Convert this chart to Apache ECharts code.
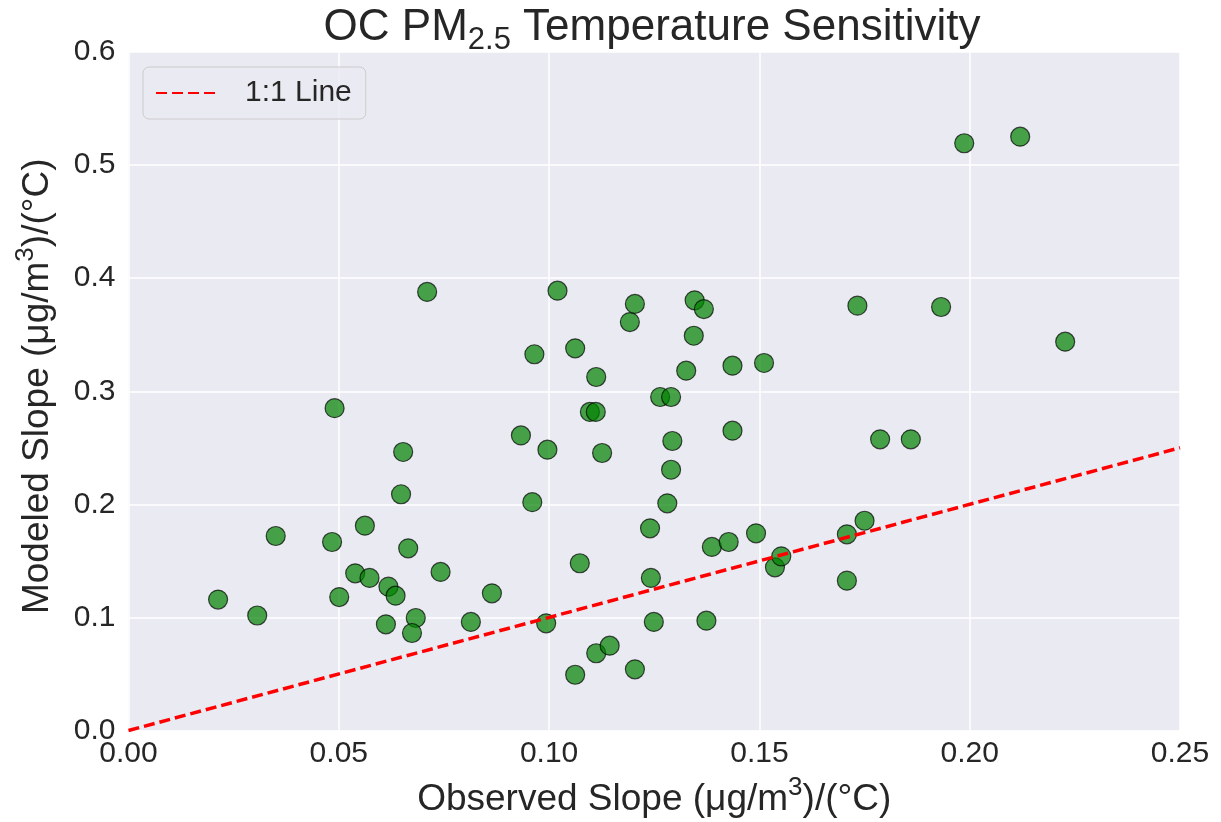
<!DOCTYPE html>
<html>
<head>
<meta charset="utf-8">
<script src="https://cdn.jsdelivr.net/npm/echarts@6/dist/echarts.min.js"></script>
<style>
html,body{margin:0;padding:0;background:#fff;}
#chart{width:1221px;height:822px;}
</style>
</head>
<body>
<div id="chart"></div>
<script>
// Observed slope (x) and modeled slope (y), µg/m3 per °C
const observed = [
  0.0213, 0.0306, 0.0350, 0.0490, 0.0484, 0.0501, 0.0539, 0.0562, 0.0573, 0.0618,
  0.0635, 0.0612, 0.0653, 0.0648, 0.0665, 0.0683, 0.0674, 0.0710, 0.0742, 0.0814,
  0.0864, 0.0933, 0.0960, 0.0965, 0.0996, 0.0993, 0.1020, 0.1062, 0.1073, 0.1062,
  0.1097, 0.1111, 0.1112, 0.1112, 0.1126, 0.1144, 0.1192, 0.1204, 0.1204, 0.1240,
  0.1242, 0.1249, 0.1264, 0.1290, 0.1293, 0.1290, 0.1281, 0.1326, 0.1344, 0.1346,
  0.1368, 0.1374, 0.1387, 0.1427, 0.1436, 0.1436, 0.1492, 0.1511, 0.1537, 0.1552,
  0.1708, 0.1708, 0.1733, 0.1750, 0.1787, 0.1860, 0.1932, 0.1987, 0.2120, 0.2227
];
const modeled = [
  0.1158, 0.1017, 0.1720, 0.2850, 0.1667, 0.1180, 0.1390, 0.1811, 0.1349, 0.1272,
  0.1192, 0.0939, 0.2463, 0.2089, 0.1611, 0.0995, 0.0862, 0.3878, 0.1402, 0.0960,
  0.1213, 0.2609, 0.2019, 0.3327, 0.2483, 0.0948, 0.3889, 0.3380, 0.1479, 0.0493,
  0.2817, 0.2817, 0.3126, 0.0683, 0.2454, 0.0750, 0.3612, 0.3772, 0.0541, 0.1788,
  0.1349, 0.0960, 0.2949, 0.2949, 0.2560, 0.2306, 0.2009, 0.3182, 0.3491, 0.3804,
  0.3727, 0.0971, 0.1623, 0.1667, 0.3226, 0.2651, 0.1744, 0.3250, 0.1443, 0.1540,
  0.1325, 0.1735, 0.3757, 0.1855, 0.2575, 0.2575, 0.3745, 0.5193, 0.5251, 0.3438
];
// 1:1 reference line
const lineX = [0, 0.25];
const lineY = [0, 0.25];
const xTicks = [0, 0.05, 0.10, 0.15, 0.20, 0.25];
const yTicks = [0, 0.1, 0.2, 0.3, 0.4, 0.5, 0.6];

const FONT = 'Liberation Sans, Arial, sans-serif';
const TXT = '#262626';

const scatterData = observed.map((x, i) => [x, modeled[i]]);
const lineData = lineX.map((x, i) => [x, lineY[i]]);

const supRich = {sup: {fontFamily: FONT, fontSize: 26, lineHeight: 8, verticalAlign: 'top', color: TXT}};

const chart = echarts.init(document.getElementById('chart'), null, {renderer: 'canvas'});
chart.setOption({
  animation: false,
  backgroundColor: '#ffffff',
  title: {
    text: 'OC PM{sub|2.5} Temperature Sensitivity',
    left: 652,
    textAlign: 'center',
    top: 0,
    padding: 0,
    textStyle: {
      fontFamily: FONT, fontSize: 44, lineHeight: 56, fontWeight: 'normal', color: TXT,
      rich: {
        sub: {fontFamily: FONT, fontSize: 31, lineHeight: 2, verticalAlign: 'bottom', color: TXT}
      }
    }
  },
  legend: {
    data: ['1:1 Line'],
    left: 143, top: 67,
    orient: 'vertical',
    padding: [11, 14, 11, 12],
    backgroundColor: 'rgba(234,234,242,0.8)',
    borderColor: '#cccccc', borderWidth: 1, borderRadius: 6,
    itemWidth: 62, itemHeight: 20,
    itemStyle: {color: 'rgba(0,0,0,0)', borderColor: 'rgba(0,0,0,0)', borderWidth: 0},
    textStyle: {fontFamily: FONT, fontSize: 30, color: TXT, padding: [0, 0, 0, 22]}
  },
  grid: {
    left: 128.5, right: 41, top: 52, bottom: 91.5,
    outerBoundsMode: 'none',
    containLabel: false,
    show: true, backgroundColor: '#EAEAF2', borderWidth: 0
  },
  xAxis: {
    type: 'value', min: xTicks[0], max: xTicks[xTicks.length - 1], interval: 0.05,
    name: 'Observed Slope (μg/m{sup|3})/(°C)',
    nameLocation: 'middle', nameGap: 44.5,
    nameTextStyle: {fontFamily: FONT, fontSize: 37, lineHeight: 50, color: TXT, rich: supRich},
    axisLine: {show: false}, axisTick: {show: false},
    axisLabel: {fontFamily: FONT, fontSize: 30, color: TXT, margin: 8,
      formatter: v => v.toFixed(2)},
    splitLine: {show: true, lineStyle: {color: '#ffffff', width: 1.5}}
  },
  yAxis: {
    type: 'value', min: yTicks[0], max: yTicks[yTicks.length - 1], interval: 0.1,
    name: 'Modeled Slope (μg/m{sup|3})/(°C)',
    nameLocation: 'middle', nameGap: 61.5,
    nameTextStyle: {fontFamily: FONT, fontSize: 37, lineHeight: 50, color: TXT, rich: supRich,
      padding: [0, 0, 0, 10]},
    axisLine: {show: false}, axisTick: {show: false},
    axisLabel: {fontFamily: FONT, fontSize: 30, color: TXT, margin: 13,
      formatter: v => v.toFixed(1)},
    splitLine: {show: true, lineStyle: {color: '#ffffff', width: 1.5}}
  },
  series: [
    {
      name: 'points', type: 'scatter', data: scatterData,
      symbol: 'circle', symbolSize: 19,
      itemStyle: {color: '#008000', borderColor: '#000000', borderWidth: 1.2, opacity: 0.7},
      z: 2
    },
    {
      name: '1:1 Line', type: 'line', data: lineData,
      symbol: 'none', showSymbol: false,
      lineStyle: {color: '#ff0000', width: 3.5, type: [11, 5]},
      itemStyle: {color: '#ff0000'},
      z: 3
    }
  ]
});
</script>
</body>
</html>
